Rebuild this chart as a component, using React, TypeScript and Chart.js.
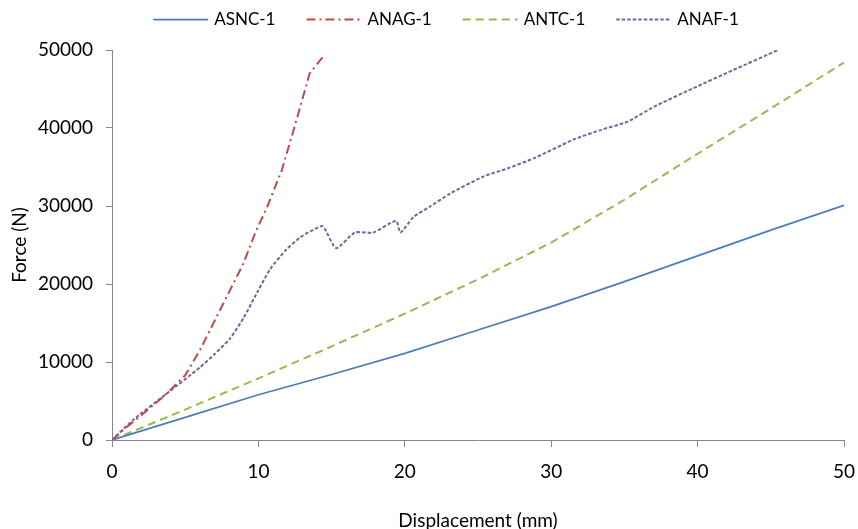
import React, { useEffect, useRef } from "react";
import { Chart, registerables } from "chart.js";

Chart.register(...registerables);

// ---- data (displacement in mm, force in N) ----
const seriesNames = ["ASNC-1", "ANAG-1", "ANTC-1", "ANAF-1"];

const asncX = [0, 5, 10, 15, 20, 25, 30, 35, 40, 45, 50];
const asncY = [0, 2900, 5800, 8400, 11100, 14100, 17100, 20300, 23600, 26900, 30100];

const anagX = [0, 0.77, 2.14, 3.6, 5.0, 6.0, 7.15, 7.95, 8.97, 9.77, 10.6, 11.6, 12.4, 13.5, 14.4];
const anagY = [0, 1300, 3400, 5700, 8300, 11500, 15800, 18800, 22600, 26500, 29900, 34600, 39700, 47000, 49100];

const antcX = [0, 5, 10, 15, 20, 25, 30, 35, 40, 45, 50];
const antcY = [0, 3900, 7900, 12000, 16200, 20600, 25300, 30800, 36700, 42500, 48400];

const anafX = [0, 1.46, 3.7, 6.0, 7.0, 8.06, 9.0, 10.0, 10.8, 11.9, 12.8, 13.6, 14.4, 15.3, 16.6, 17.85, 19.4, 19.7, 20.6, 21.7, 23.1, 25.4, 27.0, 28.8, 31.5, 33.3, 35.2, 37.0, 39.7, 42.4, 45.5];
const anafY = [0, 2600, 5900, 9300, 11000, 13000, 15700, 19200, 21900, 24400, 25900, 26800, 27400, 24600, 26600, 26600, 28100, 26600, 28600, 29900, 31600, 33800, 34800, 36100, 38500, 39700, 40800, 42700, 45100, 47400, 50000];

const xMin = 0;
const xMax = 50;
const xStep = 10;
const yMin = 0;
const yMax = 50000;
const yStep = 10000;

const xTitle = "Displacement (mm)";
const yTitle = "Force (N)";

const FONT = "Lato";
const AXIS_COLOR = "#868686";

const pts = (xs: number[], ys: number[]) => xs.map((x, i) => ({ x, y: ys[i] }));

const legendPlugin = {
  id: "topLegend",
  afterDraw(chart: any) {
    const ctx = chart.ctx as CanvasRenderingContext2D;
    ctx.save();
    ctx.font = `17px ${FONT}`;
    const lineLen = 55;
    const gapText = 6;
    const gapItem = 31;
    const items = chart.data.datasets.map((ds: any) => ({
      ds,
      w: lineLen + gapText + ctx.measureText(ds.label).width,
    }));
    const total =
      items.reduce((a: number, it: any) => a + it.w, 0) + gapItem * (items.length - 1);
    let x = 446 - total / 2;
    const y = 19.5;
    items.forEach(({ ds, w }: any) => {
      ctx.beginPath();
      ctx.setLineDash(ds.borderDash || []);
      ctx.strokeStyle = ds.borderColor;
      ctx.lineWidth = ds.borderWidth;
      ctx.moveTo(x, y);
      ctx.lineTo(x + lineLen, y);
      ctx.stroke();
      ctx.setLineDash([]);
      ctx.fillStyle = "#000";
      ctx.textBaseline = "middle";
      ctx.textAlign = "left";
      ctx.fillText(ds.label, x + lineLen + gapText, y);
      x += w + gapItem;
    });
    ctx.restore();
  },
};

export default function App() {
  const ref = useRef<HTMLCanvasElement>(null);

  useEffect(() => {
    const canvas = ref.current;
    if (!canvas) return;
    const tickFont = { family: FONT, size: 19 };
    const chart = new Chart(canvas, {
      type: "line",
      data: {
        datasets: [
          {
            label: seriesNames[0],
            data: pts(asncX, asncY),
            borderColor: "#4A7EBB",
            borderWidth: 1.75,
            pointRadius: 0,
            fill: false,
            tension: 0,
          },
          {
            label: seriesNames[1],
            data: pts(anagX, anagY),
            borderColor: "#BE4B48",
            borderWidth: 2,
            borderDash: [9, 4, 2, 4],
            pointRadius: 0,
            fill: false,
            tension: 0,
          },
          {
            label: seriesNames[2],
            data: pts(antcX, antcY),
            borderColor: "#98B954",
            borderWidth: 2,
            borderDash: [8, 5],
            pointRadius: 0,
            fill: false,
            tension: 0,
          },
          {
            label: seriesNames[3],
            data: pts(anafX, anafY),
            borderColor: "#7D60A0",
            borderWidth: 2,
            borderDash: [3.5, 2],
            pointRadius: 0,
            fill: false,
            tension: 0.2,
          },
        ],
      },
      options: {
        animation: false,
        responsive: false,
        maintainAspectRatio: false,
        layout: { padding: { top: 50, right: 14, bottom: 0, left: 0 } },
        plugins: {
          legend: { display: false },
          tooltip: { enabled: false },
        },
        scales: {
          x: {
            type: "linear",
            min: xMin,
            max: xMax,
            ticks: {
              stepSize: xStep,
              color: "#000",
              font: tickFont,
              padding: 13,
              maxRotation: 0,
              callback: (v: any) => String(v),
            },
            grid: { drawOnChartArea: false, color: AXIS_COLOR, tickLength: 7 },
            border: { color: AXIS_COLOR },
            title: {
              display: true,
              text: xTitle,
              color: "#000",
              font: { family: FONT, size: 19, lineHeight: 1 },
              padding: { top: 0, bottom: -1 },
            },
            afterFit: (s: any) => {
              s.height = 89;
              s.paddingLeft = 0;
              s.paddingRight = 0;
            },
          },
          y: {
            type: "linear",
            min: yMin,
            max: yMax,
            ticks: {
              stepSize: yStep,
              color: "#000",
              font: tickFont,
              padding: 13,
              callback: (v: any) => String(v),
            },
            grid: { drawOnChartArea: false, color: AXIS_COLOR, tickLength: 6 },
            border: { color: AXIS_COLOR },
            title: {
              display: true,
              text: yTitle,
              color: "#000",
              font: { family: FONT, size: 19, lineHeight: 1 },
              padding: { top: 10, bottom: 0 },
            },
            afterFit: (s: any) => {
              s.width = 112;
            },
          },
        },
      },
      plugins: [legendPlugin],
    });
    return () => chart.destroy();
  }, []);

  return (
    <div style={{ position: "absolute", left: 0, top: 0, width: 858, height: 529, background: "#fff" }}>
      <canvas ref={ref} width={858} height={529} style={{ display: "block", width: 858, height: 529 }} />
    </div>
  );
}
